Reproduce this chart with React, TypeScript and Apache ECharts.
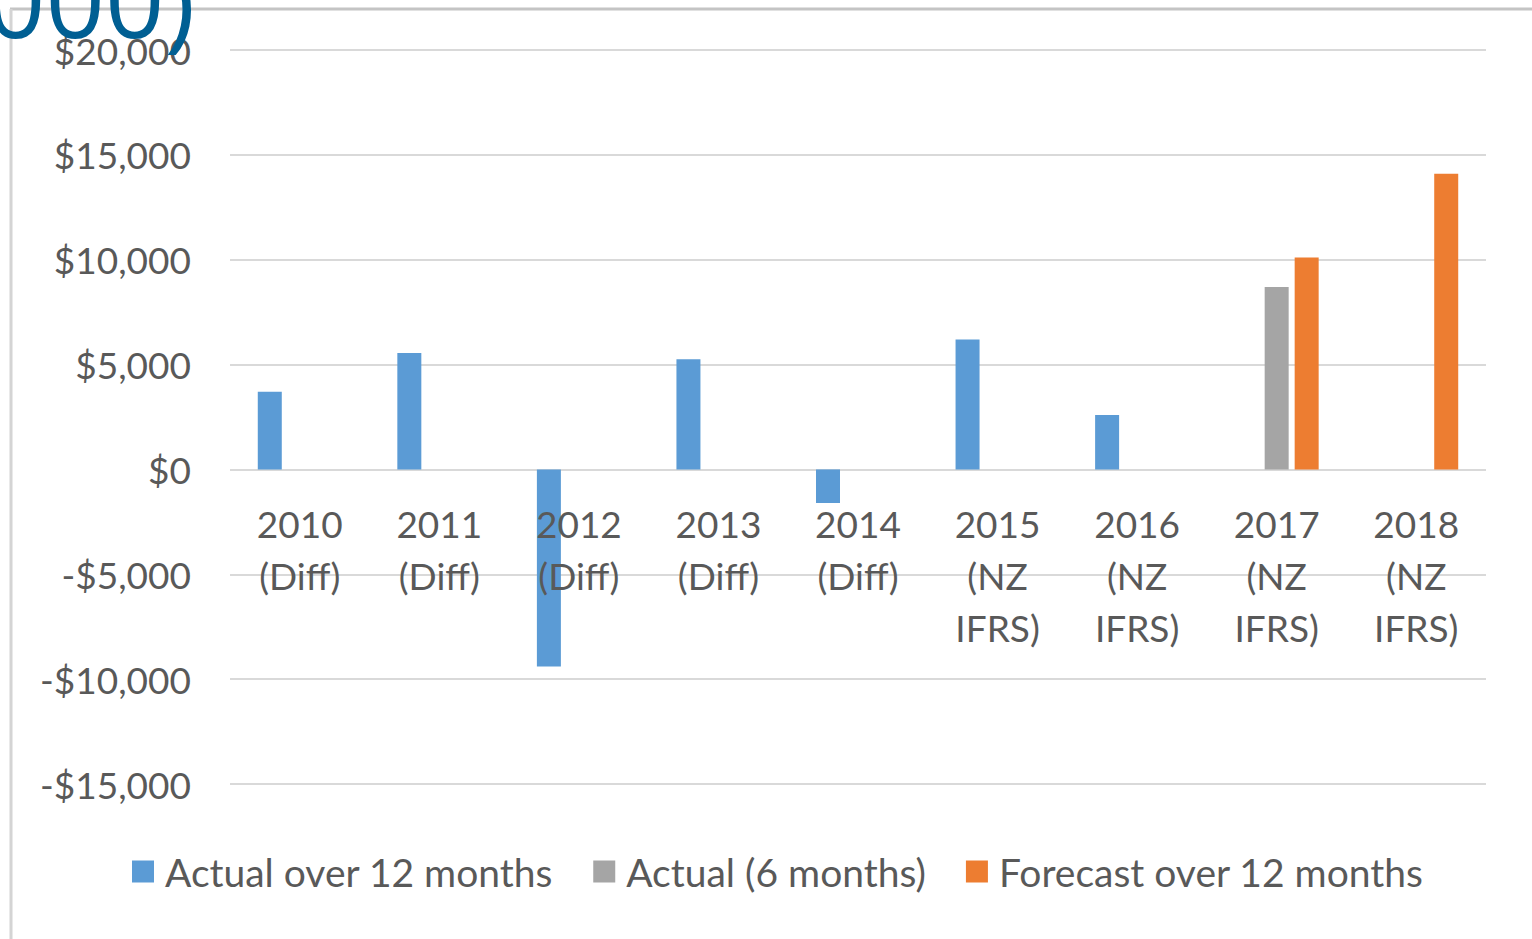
import React, { useEffect, useRef } from "react";
import * as echarts from "echarts";

const categories = [
  "2010\n(Diff)",
  "2011\n(Diff)",
  "2012\n(Diff)",
  "2013\n(Diff)",
  "2014\n(Diff)",
  "2015\n(NZ\nIFRS)",
  "2016\n(NZ\nIFRS)",
  "2017\n(NZ\nIFRS)",
  "2018\n(NZ\nIFRS)",
];
const actual12 = [3700, 5550, -9400, 5250, -1600, 6200, 2600, null, null];
const actual6 = [null, null, null, null, null, null, null, 8700, null];
const forecast12 = [null, null, null, null, null, null, null, 10100, 14100];
const seriesNames = ["Actual over 12 months", "Actual (6 months)", "Forecast over 12 months"];
const yTicks = { min: -15000, max: 20000, interval: 5000 };

const FONT = "Lato";
const TEXT = "#595959";

function fmt(v: number): string {
  const s = Math.abs(v).toString().replace(/\B(?=(\d{3})+(?!\d))/g, ",");
  return (v < 0 ? "-$" : "$") + s;
}

export default function App() {
  const ref = useRef<HTMLDivElement>(null);
  useEffect(() => {
    if (!ref.current) return;
    const chart = echarts.init(ref.current, null, { renderer: "svg" });
    chart.setOption({
      animation: false,
      backgroundColor: "#ffffff",
      grid: { left: 230, right: 46, top: 50, bottom: 155, containLabel: false, outerBoundsMode: "none" },
      legend: {
        left: 127,
        top: 847,
        itemWidth: 22,
        itemHeight: 22,
        itemGap: 40,
        icon: "rect",
        textStyle: { fontFamily: FONT, fontSize: 39, color: TEXT, padding: [0, 0, 0, 6] },
        data: seriesNames,
      },
      xAxis: {
        type: "category",
        data: categories,
        position: "bottom",
        offset: -315,
        z: 10,
        axisLine: { show: false, onZero: false },
        axisTick: { show: false },
        axisLabel: {
          fontFamily: FONT,
          fontSize: 37,
          color: TEXT,
          lineHeight: 52,
          margin: 28,
          interval: 0,
        },
      },
      yAxis: {
        type: "value",
        min: yTicks.min,
        max: yTicks.max,
        interval: yTicks.interval,
        axisLine: { show: false },
        axisTick: { show: false },
        splitLine: { lineStyle: { color: "#d9d9d9", width: 2 } },
        axisLabel: {
          fontFamily: FONT,
          fontSize: 37,
          color: TEXT,
          margin: 39,
          formatter: (v: number) => fmt(v),
        },
      },
      series: [
        { name: seriesNames[0], type: "bar", data: actual12, barWidth: 24, barGap: "25%", itemStyle: { color: "#5B9BD5" } },
        { name: seriesNames[1], type: "bar", data: actual6, barWidth: 24, barGap: "25%", itemStyle: { color: "#A5A5A5" } },
        { name: seriesNames[2], type: "bar", data: forecast12, barWidth: 24, barGap: "25%", itemStyle: { color: "#ED7D31" } },
      ],
      graphic: [
        { type: "line", shape: { x1: 10, y1: 9, x2: 1532, y2: 9 }, style: { stroke: "#c4c4c4", lineWidth: 3 }, z: 10 },
        { type: "line", shape: { x1: 11, y1: 9, x2: 11, y2: 939 }, style: { stroke: "#d4d4d4", lineWidth: 3 }, z: 10 },
        {
          type: "text",
          x: -14,
          y: 49,
          z: 20,
          style: {
            text: "000)",
            fontFamily: "Open Sans",
            fontSize: 104,
            fill: "#005F93",
            verticalAlign: "bottom",
            align: "left",
          },
        },
      ],
    });
    return () => chart.dispose();
  }, []);
  return (
    <div
      ref={ref}
      style={{ position: "absolute", left: 0, top: 0, width: 1532, height: 939 }}
    />
  );
}
